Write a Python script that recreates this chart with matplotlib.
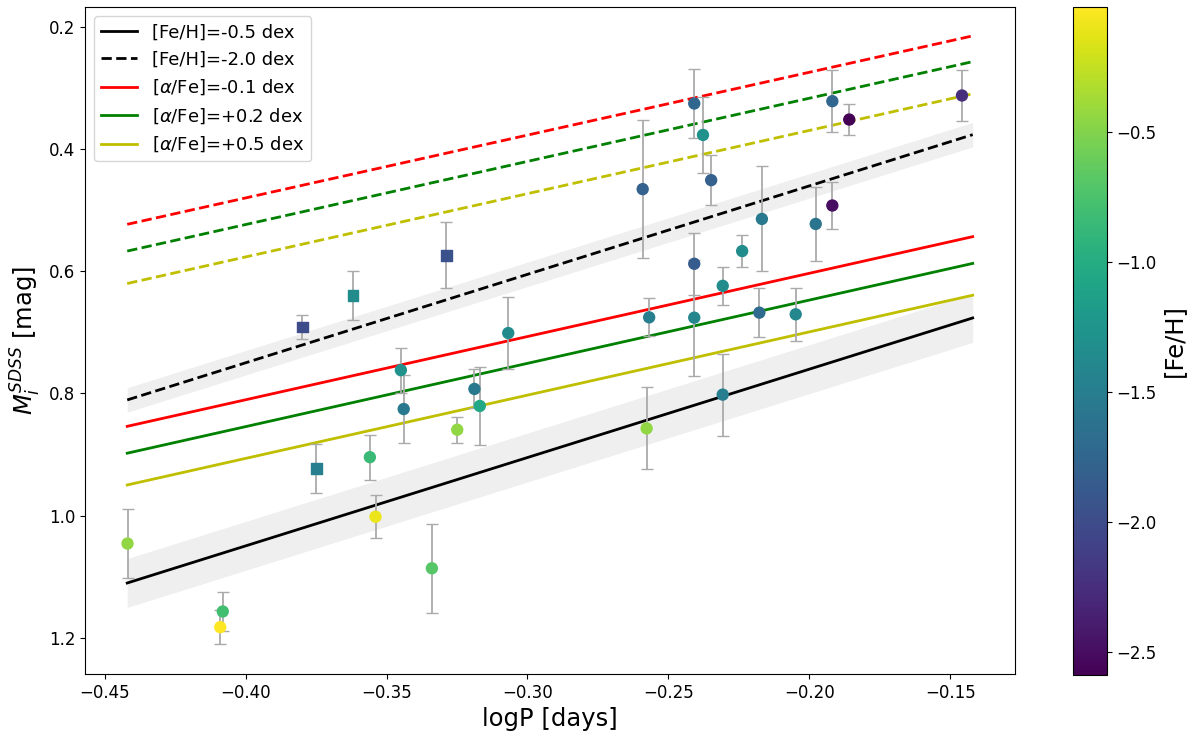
import numpy as np
import matplotlib
matplotlib.use("Agg")
from matplotlib import pyplot as plt

# model relations, magnitude at the two logP ends
logp_ends = [-0.442, -0.142]
feh_m05 = [1.1105, 0.6766]
feh_m20 = [0.8108, 0.3765]
afe_m01 = [0.854, 0.5435]
afe_p02 = [0.898, 0.5873]
afe_p05 = [0.950, 0.6394]
afe_m01_dash = [0.5233, 0.2148]
afe_p02_dash = [0.5671, 0.2570]
afe_p05_dash = [0.6202, 0.3096]
band_m05 = 0.04
band_m20 = 0.02

# stars plotted as squares
sq_logp = [-0.3799, -0.3619, -0.3288, -0.3749]
sq_mag = [0.6914, 0.6394, 0.5737, 0.9231]
sq_err = [0.019, 0.040, 0.054, 0.040]
sq_feh = [-2.0, -1.35, -1.95, -1.5]

# stars plotted as circles
ci_logp = [-0.3068, -0.3449, -0.3439, -0.3559, -0.3539, -0.3339, -0.3249,
           -0.3188, -0.3169, -0.4419, -0.4081, -0.4090, -0.2577, -0.2307,
           -0.2408, -0.2377, -0.2348, -0.2591, -0.1918, -0.1858, -0.1458,
           -0.2168, -0.1977, -0.1918, -0.2408, -0.2238, -0.2307, -0.2568,
           -0.2408, -0.2177, -0.2048]
ci_mag = [0.7013, 0.7620, 0.8257, 0.9045, 1.0020, 1.0864, 0.8596,
          0.7928, 0.8207, 1.0459, 1.1571, 1.1828, 0.8574, 0.8021,
          0.3255, 0.3770, 0.4510, 0.4657, 0.3217, 0.3518, 0.3124,
          0.5145, 0.5227, 0.4925, 0.5879, 0.5671, 0.6240, 0.6756,
          0.6761, 0.6679, 0.6706]
ci_err = [0.059, 0.037, 0.055, 0.037, 0.035, 0.073, 0.021,
          0.032, 0.064, 0.056, 0.032, 0.028, 0.067, 0.067,
          0.056, 0.062, 0.041, 0.113, 0.051, 0.025, 0.042,
          0.086, 0.060, 0.038, 0.051, 0.026, 0.031, 0.031,
          0.095, 0.040, 0.043]
ci_feh = [-1.35, -1.3, -1.55, -0.85, -0.1, -0.7, -0.45,
          -1.55, -1.05, -0.45, -0.8, -0.02, -0.45, -1.5,
          -1.75, -1.3, -1.8, -1.8, -1.75, -2.59, -2.25,
          -1.55, -1.6, -2.5, -1.85, -1.35, -1.35, -1.5,
          -1.4, -1.7, -1.4]

fig = plt.figure(figsize=(12, 7.51), dpi=100)
ax = fig.add_axes([0.0708, 0.1025, 0.7750, 0.8878])
cax = fig.add_axes([0.8944, 0.1008, 0.0278, 0.8903])

x = np.array(logp_ends)
ax.fill_between(x, np.array(feh_m05) - band_m05, np.array(feh_m05) + band_m05,
                color="#efefef", lw=0, zorder=1)
ax.fill_between(x, np.array(feh_m20) - band_m20, np.array(feh_m20) + band_m20,
                color="#efefef", lw=0, zorder=1)

ax.plot(x, feh_m05, color="k", lw=2, label="[Fe/H]=-0.5 dex", zorder=2)
ax.plot(x, feh_m20, color="k", lw=2, ls="--", label="[Fe/H]=-2.0 dex", zorder=2)
ax.plot(x, afe_m01, color="r", lw=2, label=r"[$\alpha$/Fe]=-0.1 dex", zorder=2)
ax.plot(x, afe_p02, color="g", lw=2, label=r"[$\alpha$/Fe]=+0.2 dex", zorder=2)
ax.plot(x, afe_p05, color="y", lw=2, label=r"[$\alpha$/Fe]=+0.5 dex", zorder=2)
ax.plot(x, afe_m01_dash, color="r", lw=2, ls="--", zorder=2)
ax.plot(x, afe_p02_dash, color="g", lw=2, ls="--", zorder=2)
ax.plot(x, afe_p05_dash, color="y", lw=2, ls="--", zorder=2)

vmin, vmax = -2.59, -0.02
ax.errorbar(sq_logp, sq_mag, yerr=sq_err, fmt="none", ecolor="#aaaaaa",
            elinewidth=1.3, capsize=4, zorder=3)
ax.errorbar(ci_logp, ci_mag, yerr=ci_err, fmt="none", ecolor="#aaaaaa",
            elinewidth=1.3, capsize=4, zorder=3)
ax.scatter(sq_logp, sq_mag, c=sq_feh, cmap="viridis", vmin=vmin, vmax=vmax,
           marker="s", s=62, zorder=4)
sc = ax.scatter(ci_logp, ci_mag, c=ci_feh, cmap="viridis", vmin=vmin, vmax=vmax,
                marker="o", s=62, zorder=4)

ax.set_xlim(-0.457, -0.127)
ax.set_ylim(1.2595, 0.168)
ax.tick_params(labelsize=12)
ax.set_xlabel("logP [days]", fontsize=17.5)
ax.set_ylabel(r"$M_i^{SDSS}$ [mag]", fontsize=17.5)
ax.legend(loc="upper left", fontsize=13)

cb = fig.colorbar(sc, cax=cax)
cb.ax.tick_params(labelsize=12)
cb.set_label("[Fe/H]", fontsize=17.5)

fig.savefig("out.png", dpi=100)
